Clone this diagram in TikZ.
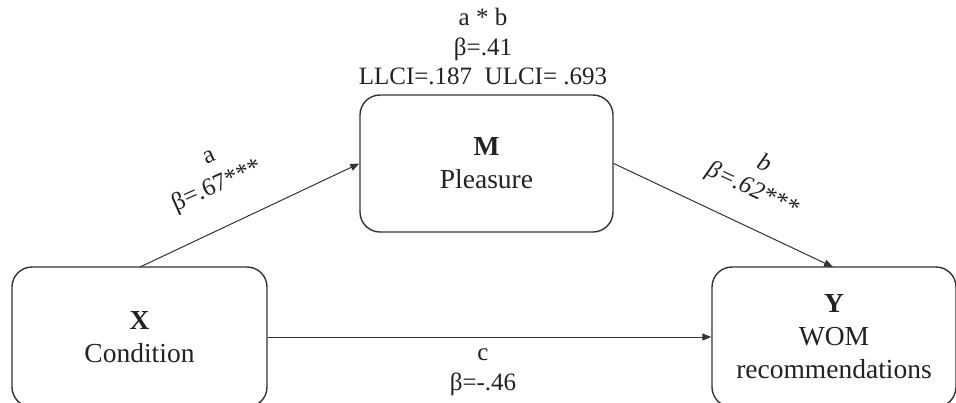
\documentclass[tikz,border=0pt]{standalone}
\usepackage{fontspec}
\setmainfont{Liberation Serif}
\usetikzlibrary{arrows.meta}
\definecolor{ink}{HTML}{222222}
\definecolor{edge}{HTML}{333333}
\tikzset{
  varbox/.style={draw=edge, line width=1.4pt, rounded corners=20pt, align=center,
    text=ink, font=\fontsize{27.5}{33}\selectfont, inner sep=0pt},
  path/.style={draw=edge, line width=1pt, -{Triangle[length=9pt,width=7pt]}},
  lbl/.style={text=ink, font=\fontsize{25}{29.5}\selectfont, align=center, inner sep=0pt},
}
\begin{document}
\begin{tikzpicture}[x=1pt,y=-1pt]
\useasboundingbox (0,0) rectangle (956,402);
\clip (0,0) rectangle (956,402);
\fill[white] (0,0) rectangle (956,402);
\node[varbox, minimum width=255pt, minimum height=140pt] (X) at (139.5,337) {\textbf{X}\\Condition};
\node[varbox, minimum width=253pt, minimum height=137pt] (M) at (486.5,163.5) {\textbf{M}\\Pleasure};
\node[varbox, minimum width=244pt, minimum height=140pt] (Y) at (834,337) {\textbf{Y}\\WOM\\recommendations};
\coordinate (Xa) at (140,267);
\coordinate (Yb) at (833,267);
\draw[path] (Xa) -- (M.west);
\draw[path] (M.east) -- (Yb);
\draw[path] (X.east) -- (Y.west);
\node[lbl] (ab) at (483,47) {a * b\\β=.41\\LLCI=.187\ \ ULCI= .693};
\node[lbl, rotate=24] (la1) at (209,157) {a};
\node[lbl, rotate=24] (la2) at (217,186) {β=.67***};
\node[lbl, rotate=-25, font=\fontsize{25}{29}\selectfont\itshape] (lb1) at (765,162) {b};
\node[lbl, rotate=-25, font=\fontsize{25}{29}\selectfont\itshape] (lb2) at (752,190) {β=.62***};
\node[lbl] (lc1) at (483,355) {c};
\node[lbl] (lc2) at (483,384) {β=-.46};
\end{tikzpicture}
\end{document}
